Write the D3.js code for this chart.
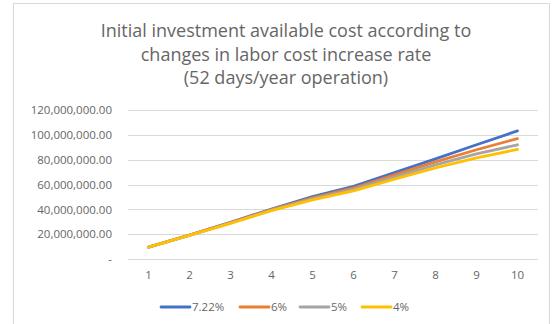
<!DOCTYPE html>
<html>
<head>
<meta charset="utf-8">
<script src="https://cdn.jsdelivr.net/npm/d3@7"></script>
<style>
    body { margin: 0; background: #fff; }
    svg text { font-family: "Open Sans", "Noto Sans", sans-serif; fill: #666; }
</style>
</head>
<body>
<div id="chart"></div>
<script>
// years of operation
const years = [1, 2, 3, 4, 5, 6, 7, 8, 9, 10];
// labor cost increase rates (legend)
const rates = ["7.22%", "6%", "5%", "4%"];
const colors = ["#4472c4", "#ed7d31", "#a5a5a5", "#ffc000"];
// available initial investment, in millions
const rate722 = [9.6, 19.3, 29.6, 40.2, 50.2, 58.6, 69.6, 80.6, 92.0, 103.2];
const rate6 = [9.6, 19.2, 29.3, 39.8, 49.3, 57.2, 67.8, 78.2, 88.0, 97.0];
const rate5 = [9.6, 19.1, 29.0, 39.4, 48.5, 56.1, 66.0, 75.8, 84.6, 92.0];
const rate4 = [9.6, 19.0, 28.7, 39.0, 47.7, 54.9, 64.3, 73.4, 81.4, 88.2];
const yTicks = [0, 20, 40, 60, 80, 100, 120];
const titleLines = [
    "Initial investment available cost according to",
    "changes in labor cost increase rate",
    "(52 days/year operation)"
];

const series = [rate722, rate6, rate5, rate4];

const width = 559, height = 324;
const margin = { top: 110, right: 21, bottom: 65, left: 128 };

const svg = d3.select("#chart")
    .append("svg")
    .attr("width", width)
    .attr("height", height);

// chart area border
svg.append("rect")
    .attr("x", 13.5).attr("y", 3.5)
    .attr("width", 536).attr("height", 330)
    .attr("fill", "#fff")
    .attr("stroke", "#d9d9d9");

// title
svg.append("g")
    .selectAll("text")
    .data(titleLines)
    .enter()
    .append("text")
    .attr("x", 286)
    .attr("y", (d, i) => 37 + i * 23.5)
    .attr("text-anchor", "middle")
    .style("font-size", "18px")
    .text(d => d);

const x = d3.scaleBand()
    .domain(years)
    .range([margin.left, width - margin.right]);

const y = d3.scaleLinear()
    .domain([0, 120])
    .range([height - margin.bottom, margin.top]);

// gridlines
svg.append("g")
    .selectAll("line")
    .data(yTicks)
    .enter()
    .append("line")
    .attr("x1", margin.left)
    .attr("x2", width - margin.right)
    .attr("y1", d => Math.round(y(d)) + 0.5)
    .attr("y2", d => Math.round(y(d)) + 0.5)
    .attr("stroke", "#d9d9d9");

// y axis labels
const fmt = d3.format(",.2f");
const yAxis = d3.axisLeft(y)
    .tickValues(yTicks)
    .tickSize(0)
    .tickPadding(16)
    .tickFormat(d => d === 0 ? "-" : fmt(d * 1e6));
svg.append("g")
    .attr("transform", "translate(" + margin.left + ",0)")
    .call(yAxis)
    .call(g => g.select(".domain").remove())
    .selectAll("text")
    .style("font-size", "11.5px")
    .style("font-family", "Open Sans, sans-serif")
    .attr("fill", "#666");

// x axis labels
const xAxis = d3.axisBottom(x).tickSize(0).tickPadding(12);
svg.append("g")
    .attr("transform", "translate(0," + (height - margin.bottom) + ")")
    .call(xAxis)
    .call(g => g.select(".domain").remove())
    .selectAll("text")
    .style("font-size", "11.5px")
    .style("font-family", "Open Sans, sans-serif")
    .attr("fill", "#666");

// lines
const line = d3.line()
    .x((d, i) => x(years[i]) + x.bandwidth() / 2)
    .y(d => y(d));

svg.append("g")
    .selectAll("path")
    .data(series)
    .enter()
    .append("path")
    .attr("d", d => line(d))
    .attr("fill", "none")
    .attr("stroke", (d, i) => colors[i])
    .attr("stroke-width", 2.8)
    .attr("stroke-linecap", "round")
    .attr("stroke-linejoin", "round");

// legend
const legendX = [161, 240, 300, 362];
const legend = svg.append("g")
    .selectAll("g")
    .data(rates)
    .enter()
    .append("g")
    .attr("transform", (d, i) => "translate(" + legendX[i] + ",307)");

legend.append("line")
    .attr("x1", 0).attr("x2", 29)
    .attr("stroke", (d, i) => colors[i])
    .attr("stroke-width", 2.8)
    .attr("stroke-linecap", "round");

legend.append("text")
    .attr("x", 31)
    .attr("y", 4)
    .style("font-size", "11.5px")
    .text(d => d);
</script>
</body>
</html>
